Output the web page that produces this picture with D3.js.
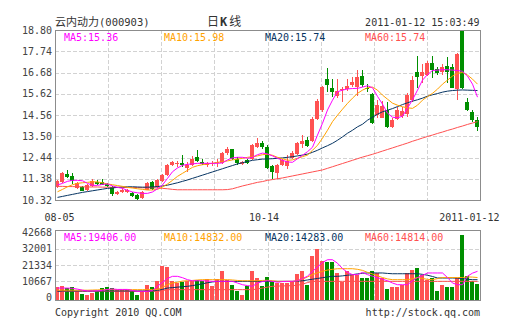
<!DOCTYPE html>
<html><head><meta charset="utf-8">
<script src="https://cdn.jsdelivr.net/npm/d3@7"></script>
<style>body{margin:0;background:#fff}svg{display:block}</style>
</head><body>
<svg id="c" width="505" height="330"></svg>
<script>
// ---------- data ----------
const title = "云内动力";
const code = "(000903)";
const timeStamp = "2011-01-12 15:03:49";
const priceTicks = [10.32, 11.38, 12.44, 13.50, 14.56, 15.62, 16.68, 17.74, 18.80];
const volTicks = [0, 10667, 21334, 32001, 42668];
const dateLabels = ["08-05", "10-14", "2011-01-12"];
const dateLabelIdx = [0, 42, 84];
const priceLegend = ["MA5:15.36", "MA10:15.98", "MA20:15.74", "MA60:15.74"];
const volLegend = ["MA5:19406.00", "MA10:14832.00", "MA20:14283.00", "MA60:14814.00"];

const opens = [10.98,11.20,11.62,11.52,10.92,10.98,10.82,11.00,11.24,11.22,
11.10,10.98,10.62,10.70,10.72,10.66,10.56,10.40,10.82,11.22,
10.98,11.25,11.55,12.07,12.10,12.18,11.92,12.08,12.45,12.22,
12.05,12.10,12.15,12.18,12.65,12.85,12.36,12.12,12.30,12.38,
12.98,13.15,12.98,12.00,11.65,12.07,12.03,12.40,12.60,13.12,
13.31,13.26,14.38,14.80,16.36,15.90,15.52,15.80,15.85,16.05,
15.97,16.53,15.92,15.59,14.57,14.41,14.82,13.96,14.37,14.49,
14.61,15.32,16.72,16.49,16.57,17.16,16.87,16.72,17.00,16.97,
15.84,18.80,15.21,14.71,14.33];
const highs = [11.33,11.70,11.82,11.65,11.20,11.02,11.10,11.36,11.30,11.38,
11.18,11.00,10.78,10.90,10.86,10.72,10.62,10.76,11.20,11.28,
11.36,11.62,12.12,12.28,12.25,12.56,12.20,12.50,12.81,12.35,
12.22,12.25,12.38,12.72,12.98,12.88,12.45,12.28,12.38,13.12,
13.40,13.25,13.05,12.08,12.10,12.35,12.55,12.75,13.20,13.55,
13.45,14.45,15.35,16.02,16.92,16.35,16.36,15.97,16.35,16.45,
16.80,16.80,16.10,15.65,15.30,15.25,15.20,14.40,14.95,14.95,
15.65,16.50,17.50,17.10,17.25,17.48,16.95,17.10,17.47,17.10,
17.64,18.80,15.40,14.80,14.45];
const lows = [10.92,11.15,11.40,11.10,10.88,10.75,10.78,10.95,11.05,11.05,
10.98,10.52,10.58,10.66,10.66,10.45,10.33,10.36,10.80,10.80,
10.92,11.20,11.50,12.00,11.95,11.98,11.70,12.00,12.20,12.05,
11.98,12.02,11.95,12.12,12.55,12.30,12.05,12.05,12.10,12.30,
12.90,12.85,11.88,11.38,11.35,12.00,11.85,12.35,12.55,12.90,
12.95,13.20,14.30,14.70,15.70,15.45,15.40,15.22,15.78,15.95,
15.50,15.95,15.70,14.10,14.40,14.40,13.90,13.90,14.30,14.40,
14.45,15.20,15.90,16.15,16.50,16.40,16.55,16.55,16.15,15.89,
15.32,15.85,14.75,14.22,13.75];
const closes = [11.28,11.65,11.48,11.28,11.15,10.78,11.05,11.28,11.14,11.08,
11.02,10.60,10.74,10.84,10.80,10.50,10.38,10.72,11.15,10.86,
11.30,11.57,12.07,12.22,12.16,12.05,12.08,12.38,12.25,12.12,
12.15,12.18,12.22,12.68,12.88,12.36,12.15,12.24,12.18,13.05,
13.18,12.95,11.93,11.73,12.05,12.30,12.27,12.65,13.15,13.25,
13.03,14.38,15.25,15.97,16.08,15.70,15.76,15.88,16.00,16.20,
16.48,16.06,15.85,14.16,15.07,15.01,13.94,14.33,14.82,14.74,
15.57,16.32,16.44,16.70,17.13,16.82,16.65,16.97,16.70,15.92,
17.60,15.90,14.82,14.33,13.94];
const volumes = [6900,7750,6200,6650,4500,2300,1850,2950,4050,6200,
6900,6000,5150,5150,4900,4050,1850,4050,8000,6900,
11000,20900,19800,11000,9500,9950,11000,11000,11700,10600,
12350,7350,12350,17200,11700,8400,4500,1850,7350,17600,
12800,7350,13450,10200,9500,9500,9500,11000,15400,17200,
8000,27000,31800,23700,23100,23300,16100,10200,17600,15000,
15000,12800,13100,17200,16100,13100,5800,6900,6700,8400,
16100,18300,19400,15000,11700,13100,4500,8400,6900,6900,
13100,40800,13900,10600,9000];
const ma5 = [11.07,11.15,11.25,11.30,11.30,11.28,11.15,11.05,11.05,11.10,
11.12,11.02,10.95,10.90,10.80,10.72,10.68,10.65,10.65,10.72,
10.88,11.07,11.40,11.73,11.92,12.05,12.10,12.12,12.15,12.15,
12.15,12.15,12.15,12.17,12.32,12.42,12.45,12.45,12.40,12.45,
12.58,12.66,12.62,12.52,12.40,12.30,12.22,12.20,12.38,12.55,
12.73,12.95,13.56,14.15,14.81,15.30,15.72,15.80,15.86,15.88,
15.89,15.95,16.02,15.92,15.49,15.10,14.65,14.45,14.42,14.50,
14.90,15.32,15.80,16.30,16.58,16.78,16.80,16.82,16.82,16.80,
16.78,16.74,16.50,16.10,15.45];
const ma10 = [10.73,10.85,10.98,11.08,11.15,11.18,11.20,11.23,11.22,11.18,
11.12,11.08,11.04,11.00,10.95,10.92,10.88,10.85,10.82,10.82,
10.85,10.97,11.12,11.30,11.50,11.65,11.80,11.95,12.03,12.08,
12.12,12.15,12.20,12.23,12.27,12.32,12.36,12.40,12.45,12.48,
12.52,12.58,12.60,12.55,12.45,12.38,12.30,12.32,12.40,12.48,
12.56,12.80,13.05,13.40,13.80,14.23,14.55,14.85,15.14,15.40,
15.64,15.80,15.92,15.95,15.80,15.55,15.35,15.15,15.05,14.97,
14.92,14.89,15.05,15.30,15.48,15.64,15.85,16.10,16.30,16.50,
16.64,16.68,16.55,16.35,16.10];
const ma20 = [10.45,10.50,10.55,10.60,10.65,10.70,10.74,10.78,10.82,10.86,
10.90,10.92,10.95,10.97,10.98,10.98,10.97,10.96,10.96,10.97,
10.99,11.02,11.06,11.12,11.18,11.25,11.32,11.40,11.48,11.56,
11.64,11.72,11.80,11.88,11.96,12.04,12.12,12.18,12.24,12.30,
12.33,12.36,12.37,12.38,12.40,12.42,12.45,12.48,12.52,12.56,
12.61,12.70,12.80,12.92,13.03,13.15,13.30,13.47,13.65,13.80,
13.97,14.10,14.30,14.45,14.60,14.72,14.80,14.88,14.98,15.08,
15.17,15.25,15.32,15.40,15.50,15.57,15.63,15.70,15.75,15.78,
15.80,15.81,15.80,15.79,15.78];
const ma60 = [11.00,11.00,10.99,10.99,10.98,10.98,10.97,10.97,10.97,10.96,
10.96,10.95,10.95,10.95,10.94,10.94,10.94,10.93,10.93,10.93,
10.92,10.90,10.88,10.85,10.83,10.83,10.83,10.83,10.83,10.83,
10.83,10.83,10.83,10.83,10.84,10.88,10.95,11.02,11.08,11.14,
11.20,11.24,11.30,11.34,11.38,11.42,11.47,11.52,11.57,11.62,
11.67,11.72,11.77,11.82,11.90,11.98,12.06,12.14,12.22,12.30,
12.38,12.46,12.53,12.60,12.68,12.76,12.84,12.92,13.00,13.08,
13.16,13.25,13.33,13.41,13.49,13.56,13.64,13.71,13.79,13.86,
13.94,14.01,14.09,14.16,14.23];
const vma5 = [6200,6200,6200,6000,5500,4800,4300,4300,4400,4700,
5300,5600,5300,5300,5300,4600,4050,4050,4050,4600,
7400,10000,12500,13900,13900,13000,11700,11000,11000,11000,
10800,10600,10600,10600,10600,10600,9500,8400,7800,7350,
9500,10500,11000,10600,10000,10500,10600,10600,11000,12400,
14000,17200,20000,23000,24800,24800,22500,19000,16500,15000,
15000,16500,15000,14000,13000,12000,11000,9500,8400,8400,
8400,11000,13100,14500,16100,16100,16100,16100,13100,9500,
8400,8400,14000,16000,17200];
const vma10 = [4800,4800,4800,4800,4800,4800,4800,4900,5000,5100,
5150,5150,5150,5150,5150,5150,5150,5150,5150,5150,
5150,6600,8500,9500,10000,10800,11000,11200,11500,11700,
11700,11700,11700,11700,11700,11500,11200,11000,11000,11000,
11000,11200,11300,11000,10600,10600,10600,10600,11000,12000,
13500,15000,16200,17200,18000,18500,18900,18900,18900,18900,
18500,17800,16500,15500,14200,13100,12200,11700,11700,11700,
11700,12300,13100,12500,11900,11700,12400,13100,13100,13100,
13100,13100,13500,13400,13100];
const vma20 = [4050,4300,4300,4300,4300,4300,4300,4300,4300,4300,
4300,4300,4300,4300,4300,4300,4300,4300,4300,4300,
4700,5300,6200,6500,6800,7100,7350,7800,8400,9000,
9700,10200,10600,10600,10600,10600,10600,10600,10600,10600,
10600,10600,10600,10600,10600,10600,10600,10600,10700,11000,
11500,12000,12500,13000,13500,13900,13900,14200,14600,15000,
15500,15900,16100,16100,16100,16100,15800,15600,15600,15600,
15600,15600,15600,15200,14600,13800,12800,12800,12800,12800,
12700,12400,12000,11700,11700];
const vma60 = [4050,4050,4050,4050,4050,4050,4050,4050,4050,4050,
4050,4050,4050,4050,4050,4050,4050,4050,4050,4050,
4050,4500,5150,5150,5150,5150,5150,5150,5150,5150,
5150,5150,5150,5150,5150,5150,5150,5150,5150,5150,
5600,6200,6800,7350,7500,7600,7700,7800,8000,8800,
9800,10600,10600,10600,10600,10600,10600,10600,10600,10600,
10600,10600,10600,10600,10600,10600,10600,10600,10600,10600,
10600,10600,10600,10600,10600,10600,10600,10600,10600,10600,
10600,10600,10600,10600,10600];

// ---------- drawing ----------
const svg = d3.select("#c");
const mono = "'DejaVu Sans Mono', 'Liberation Mono', monospace";
const cjk = "'Noto Sans CJK SC', sans-serif";
const RED = "#ff5252", GREEN = "#008f00";
const lineColors = ["#ff00ff", "#ffa200", "#063462", "#ff5050"];
const gridColor = "#d2d2d2", frameColor = "#8c8c8c", textColor = "#333";
const FS = 10;

const L = 55, R = 480;
const idx = closes.map((d, i) => i);
const x = d3.scaleBand().domain(idx).range([L, R]).paddingInner(0).paddingOuter(0);
const xc = i => x(i) + 2.5;
const y = d3.scaleLinear().domain([priceTicks[0], priceTicks[priceTicks.length - 1]]).range([200, 30]);
const yv = d3.scaleLinear().domain([0, volTicks[volTicks.length - 1]]).range([297.5, 232.5]);
const gx = d3.scaleLinear().domain([0, 8]).range([L, R]);

// ---- grids ----
function vgrid(y0, y1) {
  svg.append("g").selectAll("line").data(d3.range(1, 8)).join("line")
    .attr("x1", d => Math.round(gx(d)) + 0.5).attr("x2", d => Math.round(gx(d)) + 0.5)
    .attr("y1", y0).attr("y2", y1)
    .attr("stroke", gridColor).attr("stroke-dasharray", "4,2");
}
vgrid(30, 200);
vgrid(230, 300);
svg.append("g").selectAll("line").data(priceTicks.slice(1, -1)).join("line")
  .attr("x1", L).attr("x2", R)
  .attr("y1", d => Math.round(y(d)) + 0.5).attr("y2", d => Math.round(y(d)) + 0.5)
  .attr("stroke", gridColor).attr("stroke-dasharray", "4,2");
svg.append("g").selectAll("line").data(volTicks.slice(1, -1)).join("line")
  .attr("x1", L).attr("x2", R)
  .attr("y1", d => Math.round(yv(d)) + 0.5).attr("y2", d => Math.round(yv(d)) + 0.5)
  .attr("stroke", gridColor).attr("stroke-dasharray", "4,2");

// ---- axis labels ----
const yAxis = d3.axisLeft(y).tickValues(priceTicks).tickSize(0).tickPadding(3).tickFormat(d3.format(".2f"));
const ga = svg.append("g").attr("transform", `translate(${L},0)`).call(yAxis);
ga.select(".domain").remove();
ga.selectAll("text").attr("font-family", mono).attr("font-size", FS).attr("fill", "#444");
const vAxis = d3.axisLeft(yv).tickValues(volTicks).tickSize(0).tickPadding(3).tickFormat(d3.format("d"));
const gv = svg.append("g").attr("transform", `translate(${L},0)`).call(vAxis);
gv.select(".domain").remove();
gv.selectAll("text").attr("font-family", mono).attr("font-size", FS).attr("fill", "#444");

// ---- candles ----
const cg = svg.append("g").attr("shape-rendering", "crispEdges");
const up = i => closes[i] >= opens[i];
cg.selectAll("line").data(idx).join("line")
  .attr("x1", i => xc(i)).attr("x2", i => xc(i))
  .attr("y1", i => y(highs[i])).attr("y2", i => y(lows[i]))
  .attr("stroke", i => up(i) ? RED : GREEN);
cg.selectAll("rect").data(idx).join("rect")
  .attr("x", i => x(i)).attr("width", 4)
  .attr("y", i => y(Math.max(opens[i], closes[i])))
  .attr("height", i => Math.max(1, Math.abs(y(opens[i]) - y(closes[i]))))
  .attr("fill", i => up(i) ? RED : GREEN);

// ---- volume bars ----
svg.append("g").attr("shape-rendering", "crispEdges").selectAll("rect").data(idx).join("rect")
  .attr("x", i => x(i)).attr("width", 4)
  .attr("y", i => yv(volumes[i]))
  .attr("height", i => 300.5 - yv(volumes[i]))
  .attr("fill", i => up(i) ? RED : GREEN);

// ---- MA lines ----
const priceMA = [ma5, ma10, ma20, ma60];
const volMA = [vma5, vma10, vma20, vma60];
const lp = d3.line().x((d, i) => xc(i)).y(d => y(d));
const lv = d3.line().x((d, i) => xc(i)).y(d => yv(d));
[3, 2, 1, 0].forEach(k => {
  svg.append("path").attr("d", lp(priceMA[k])).attr("fill", "none").attr("stroke", lineColors[k]).attr("stroke-width", 1);
  svg.append("path").attr("d", lv(volMA[k])).attr("fill", "none").attr("stroke", lineColors[k]).attr("stroke-width", 1);
});

// ---- frames ----
svg.append("rect").attr("x", L + 0.5).attr("y", 30.5).attr("width", R - L).attr("height", 170)
  .attr("fill", "none").attr("stroke", frameColor).attr("shape-rendering", "crispEdges");
svg.append("rect").attr("x", L + 0.5).attr("y", 230.5).attr("width", R - L).attr("height", 70)
  .attr("fill", "none").attr("stroke", frameColor).attr("shape-rendering", "crispEdges");

// ---- legends ----
const legX = [64, 164, 265, 365];
svg.append("g").selectAll("text").data(priceLegend).join("text")
  .attr("x", (d, i) => legX[i]).attr("y", 40.5)
  .attr("font-family", mono).attr("font-size", FS).attr("fill", (d, i) => lineColors[i]).text(d => d);
svg.append("g").selectAll("text").data(volLegend).join("text")
  .attr("x", (d, i) => legX[i]).attr("y", 240.5)
  .attr("font-family", mono).attr("font-size", FS).attr("fill", (d, i) => lineColors[i]).text(d => d);

// ---- date labels ----
const dateAnchor = ["middle", "middle", "end"];
const dateDx = [2, -3.5, 22];
svg.append("g").selectAll("text").data(dateLabels).join("text")
  .attr("x", (d, i) => xc(dateLabelIdx[i]) + dateDx[i]).attr("y", 220.5)
  .attr("text-anchor", (d, i) => dateAnchor[i])
  .attr("font-family", mono).attr("font-size", FS).attr("fill", textColor).text(d => d);

// ---- header ----
const t = svg.append("text").attr("x", 55).attr("y", 25.5).attr("fill", textColor);
t.append("tspan").attr("font-family", cjk).attr("font-size", 11).text(title);
t.append("tspan").attr("font-family", mono).attr("font-size", 10.5).text(code);
const k = svg.append("text").attr("x", 207).attr("y", 26).attr("fill", textColor).attr("font-size", 12);
k.append("tspan").attr("font-family", cjk).text("日");
k.append("tspan").attr("font-family", mono).attr("font-weight", "bold").attr("dx", 1).text("K");
k.append("tspan").attr("font-family", cjk).attr("dx", 2).text("线");
svg.append("text").attr("x", 479.5).attr("y", 25.5).attr("text-anchor", "end")
  .attr("font-family", mono).attr("font-size", FS).attr("fill", textColor).text(timeStamp);

// ---- footer ----
svg.append("text").attr("x", 55).attr("y", 315.5).attr("font-family", mono).attr("font-size", FS)
  .attr("fill", textColor).text("Copyright 2010 QQ.COM");
svg.append("text").attr("x", 480).attr("y", 315.5).attr("text-anchor", "end").attr("font-family", mono)
  .attr("font-size", FS).attr("fill", textColor).text("http://stock.qq.com");
</script>
</body></html>
